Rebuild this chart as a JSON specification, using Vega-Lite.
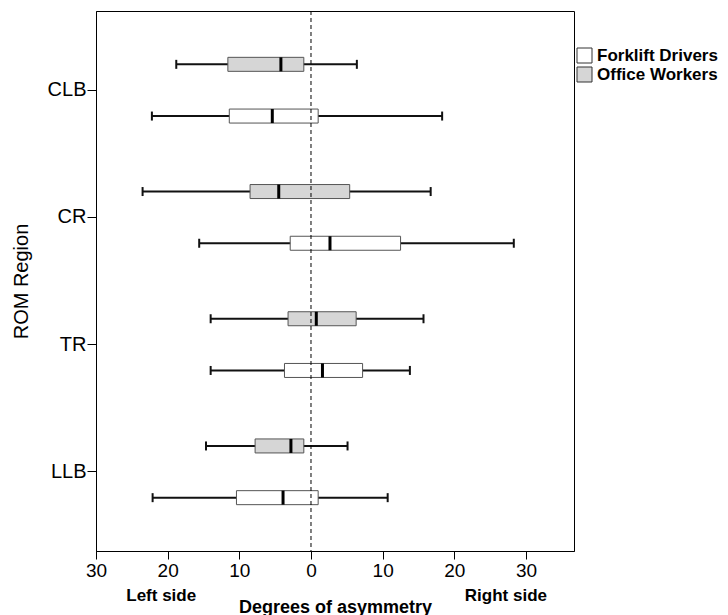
{
  "$schema": "https://vega.github.io/schema/vega-lite/v6.json",
  "width": 478,
  "height": 540,
  "autosize": {"type": "none"},
  "padding": {"left": 96, "top": 11, "right": 154, "bottom": 64},
  "background": "white",
  "config": {
    "view": {"stroke": "black", "strokeWidth": 1},
    "font": "Liberation Sans",
    "axis": {"domainColor": "black", "tickColor": "black", "labelColor": "black", "titleColor": "black", "grid": false}
  },
  "datasets": {
    "boxes": [
      {"region": "CLB", "group": "Office Workers", "min": -18.8, "q1": -11.6, "median": -4.2, "q3": -1.0, "max": 6.4},
      {"region": "CLB", "group": "Forklift Drivers", "min": -22.2, "q1": -11.4, "median": -5.4, "q3": 1.0, "max": 18.3},
      {"region": "CR", "group": "Office Workers", "min": -23.5, "q1": -8.5, "median": -4.5, "q3": 5.4, "max": 16.7},
      {"region": "CR", "group": "Forklift Drivers", "min": -15.6, "q1": -2.9, "median": 2.65, "q3": 12.5, "max": 28.3},
      {"region": "TR", "group": "Office Workers", "min": -14.0, "q1": -3.2, "median": 0.74, "q3": 6.3, "max": 15.7},
      {"region": "TR", "group": "Forklift Drivers", "min": -14.0, "q1": -3.7, "median": 1.6, "q3": 7.2, "max": 13.8},
      {"region": "LLB", "group": "Office Workers", "min": -14.65, "q1": -7.8, "median": -2.8, "q3": -1.0, "max": 5.1},
      {"region": "LLB", "group": "Forklift Drivers", "min": -22.1, "q1": -10.4, "median": -3.9, "q3": 1.0, "max": 10.7}
    ],
    "sides": [
      {"label": "Left side", "pos": -20.9},
      {"label": "Right side", "pos": 27.2}
    ],
    "zero": [{"z": 0}]
  },
  "data": {"name": "boxes"},
  "encoding": {
    "y": {
      "field": "region", "type": "nominal",
      "scale": {"domain": ["CLB", "CR", "TR", "LLB"], "paddingInner": 0, "paddingOuter": 0.1226},
      "axis": {"title": "ROM Region", "titleFontSize": 20, "titleFontWeight": "normal", "titleX": -75, "titleBaseline": "middle", "labelFontSize": 20, "labelPadding": 1, "tickSize": 9}
    },
    "yOffset": {
      "field": "group", "type": "nominal",
      "scale": {"domain": ["Office Workers", "Forklift Drivers"], "paddingInner": 0, "paddingOuter": 0.23}
    }
  },
  "layer": [
    {
      "mark": {"type": "rule", "color": "#111", "strokeWidth": 2},
      "encoding": {
        "x": {
          "field": "min", "type": "quantitative",
          "scale": {"domain": [-30, 36.7], "nice": false, "zero": false},
          "axis": {"values": [-30, -20, -10, 0, 10, 20, 30], "labelExpr": "abs(datum.value)", "labelFlush": false, "labelFontSize": 19, "labelPadding": 2, "tickSize": 8, "title": "Degrees of asymmetry", "titleFontSize": 18, "titleFontWeight": "bold", "titleBaseline": "alphabetic", "titleY": 61}
        },
        "x2": {"field": "max"}
      }
    },
    {
      "mark": {"type": "tick", "color": "#111", "size": 9, "thickness": 2, "opacity": 1},
      "encoding": {"x": {"field": "min", "type": "quantitative"}}
    },
    {
      "mark": {"type": "tick", "color": "#111", "size": 9, "thickness": 2, "opacity": 1},
      "encoding": {"x": {"field": "max", "type": "quantitative"}}
    },
    {
      "mark": {"type": "bar", "size": 14, "stroke": "#555", "strokeWidth": 1, "opacity": 1},
      "encoding": {
        "x": {"field": "q1", "type": "quantitative"},
        "x2": {"field": "q3"},
        "fill": {
          "field": "group", "type": "nominal",
          "scale": {"domain": ["Forklift Drivers", "Office Workers"], "range": ["#ffffff", "#d6d6d6"]},
          "legend": {"title": null, "orient": "none", "legendX": 480, "legendY": 36, "symbolType": "square", "symbolSize": 225, "symbolStrokeColor": "#333", "symbolStrokeWidth": 1, "symbolOpacity": 1, "labelFontSize": 17, "labelFontWeight": "bold", "labelColor": "black", "labelOffset": 4, "rowPadding": 0, "padding": 0}
        }
      }
    },
    {
      "mark": {"type": "tick", "color": "black", "size": 14, "thickness": 3, "opacity": 1},
      "encoding": {"x": {"field": "median", "type": "quantitative"}}
    },
    {
      "data": {"name": "zero"},
      "mark": {"type": "rule", "color": "black", "strokeWidth": 1, "strokeDash": [4, 3]},
      "encoding": {"x": {"field": "z", "type": "quantitative"}, "y": null, "yOffset": null}
    },
    {
      "data": {"name": "sides"},
      "mark": {"type": "text", "fontSize": 17, "fontWeight": "bold", "color": "black", "baseline": "alphabetic", "align": "center", "dy": 50},
      "encoding": {
        "x": {"field": "pos", "type": "quantitative"},
        "y": {"value": "height"},
        "yOffset": null,
        "text": {"field": "label"}
      }
    }
  ]
}
